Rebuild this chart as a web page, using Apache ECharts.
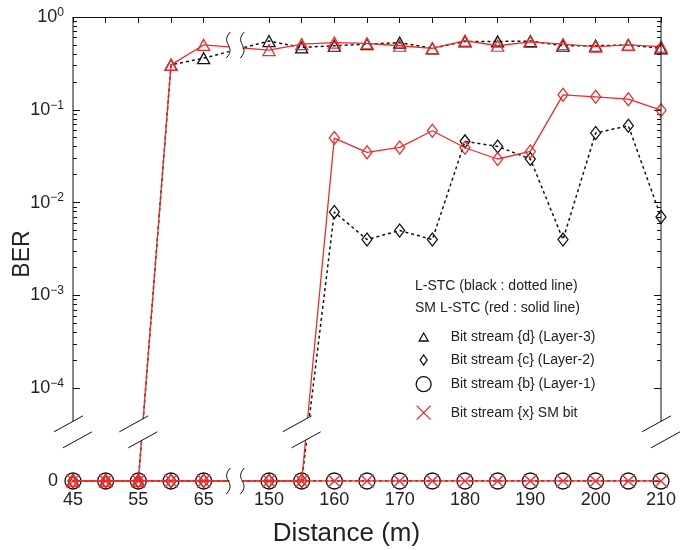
<!DOCTYPE html>
<html>
<head>
<meta charset="utf-8">
<script src="https://cdn.jsdelivr.net/npm/echarts@6/dist/echarts.min.js"></script>
<style>html,body{margin:0;padding:0;background:#fff;}#c{width:696px;height:550px;}</style>
</head>
<body>
<div id="c"></div>
<script>
// ---- data ----
const CATEGORIES = ['45','50','55','60','65','','150','155','160','165','170','175','180','185','190','195','200','205','210'];
const ZERO_LEVEL = 1e-5;           // BER = 0 is drawn on this level of the broken log axis
const D_LSTC = [0,0,0,0.305,0.36,null,0.55,0.47,0.49,0.51,0.53,0.46,0.545,0.545,0.55,0.49,0.49,0.50,0.46];
const D_SM   = [0,0,0,0.305,0.50,null,0.44,0.51,0.53,0.52,0.49,0.46,0.556,0.49,0.54,0.51,0.48,0.50,0.48];
const C_LSTC = [0,0,0,0,0,null,0,0,0.0079,0.004,0.005,0.004,0.0457,0.0403,0.0295,0.004,0.0562,0.0673,0.007];
const C_SM   = [0,0,0,0,0,null,0,0,0.0496,0.0348,0.0393,0.0594,0.039,0.0295,0.0356,0.145,0.138,0.130,0.099];
const B_LSTC = [0,0,0,0,0,null,0,0,0,0,0,0,0,0,0,0,0,0,0];
const X_SM   = [0,0,0,0,0,null,0,0,0,0,0,0,0,0,0,0,0,0,0];
const LEGEND_NAMES = ['Bit stream {d} (Layer-3)','Bit stream {c} (Layer-2)','Bit stream {b} (Layer-1)','Bit stream {x} SM bit'];
const HEADER_TEXTS = ['L-STC (black : dotted line)','SM L-STC (red : solid line)'];

const RED = '#ee2b2b';
const BLACK = '#111';
const FONT = 'Liberation Sans, Arial, sans-serif';

function toLog(arr){ return arr.map(v => v === null ? null : (v === 0 ? ZERO_LEVEL : v)); }

const minorVals = [];
for (let e = -4; e < 0; e++) for (let k = 2; k <= 9; k++) minorVals.push(k * Math.pow(10, e));

const chart = echarts.init(document.getElementById('c'), null, {renderer:'canvas'});

function yAxisBase(pos){
  return {
    type:'log', logBase:10, min:ZERO_LEVEL, max:1, position:pos,
    axisLine:{show:false}, splitLine:{show:false}, minorTick:{show:false}
  };
}

const lineSeries = (name, data, color, dotted, symbol, size, z) => ({
  name, type:'line', data: toLog(data), connectNulls:true,
  symbol, symbolSize:size, showSymbol:true, z,
  lineStyle:{color, width: dotted ? 1.5 : 1.3, type: dotted ? [3,3] : 'solid'},
  itemStyle:{color:'rgba(255,255,255,0)', borderColor:color, borderWidth:1.3},
  emphasis:{disabled:true}, animation:false
});

const XPATH = 'path://M0,0L10,10M10,0L0,10';

const legendItem = (name, icon, color, w, h, cy) => ({
  left: 418 - w/2, top: cy - 9, orient:'vertical',
  itemWidth:w, itemHeight:h, selectedMode:false,
  data:[{name, icon, itemStyle:{color:'rgba(255,255,255,0)', borderColor:color, borderWidth:1.3}}],
  textStyle:{fontFamily:FONT, fontSize:14, color:'#222', padding:[0,0,0, 451 - (418 - w/2) - w - 11]}
});

const option = {
  animation:false,
  backgroundColor:'#fff',
  grid:{left:73, right:35, top:17, bottom:69, containLabel:false, outerBoundsMode:'none'},
  xAxis:[
    {type:'category', data:CATEGORIES, boundaryGap:false, position:'bottom',
     axisLine:{show:false}, axisTick:{show:false}, splitLine:{show:false},
     axisLabel:{interval:(i)=> i%2===0 && CATEGORIES[i]!=='', fontFamily:FONT, fontSize:18, color:'#222', margin:10},
     name:'Distance (m)', nameLocation:'middle', nameGap:40, nameMoveOverlap:false,
     nameTextStyle:{fontFamily:FONT, fontSize:26, color:'#222', padding:[0,41,0,0]}},
    {type:'category', data:CATEGORIES, boundaryGap:false, position:'top',
     axisLine:{show:true, lineStyle:{color:BLACK, width:1}},
     axisTick:{show:true, inside:true, length:6, interval:(i,v)=> v!=='', lineStyle:{color:BLACK}},
     axisLabel:{show:false}, splitLine:{show:false}}
  ],
  yAxis:[
    Object.assign(yAxisBase('left'), {
      axisTick:{show:true, inside:true, length:7, lineStyle:{color:BLACK}},
      axisLabel:{fontFamily:FONT, color:'#222', margin:9,
        formatter:(v)=>{ if (v <= ZERO_LEVEL*1.0001) return '{z|0}';
          const e = Math.round(Math.log10(v));
          return '{b|10}{s|' + (e===0 ? '0' : '\u2212' + (-e)) + '}'; },
        rich:{b:{fontSize:18, fontFamily:FONT, color:'#222'},
              s:{fontSize:12, fontFamily:FONT, color:'#222', verticalAlign:'bottom', padding:[0,0,9,0]},
              z:{fontSize:18, fontFamily:FONT, color:'#222', padding:[0,6,0,0]}}},
      name:'BER', nameLocation:'middle', nameGap:39, nameMoveOverlap:false,
      nameTextStyle:{fontFamily:FONT, fontSize:23, color:'#222', padding:[0,10,0,0]}
    }),
    Object.assign(yAxisBase('right'), {
      axisTick:{show:true, inside:true, length:7, lineStyle:{color:BLACK}},
      axisLabel:{show:false}
    }),
    Object.assign(yAxisBase('left'), {
      axisTick:{show:true, inside:true, length:4, customValues:minorVals, lineStyle:{color:BLACK}},
      axisLabel:{show:false}
    }),
    Object.assign(yAxisBase('right'), {
      axisTick:{show:true, inside:true, length:4, customValues:minorVals, lineStyle:{color:BLACK}},
      axisLabel:{show:false}
    })
  ],
  legend:[
    legendItem(LEGEND_NAMES[0], 'triangle', BLACK, 9, 8, 334),
    legendItem(LEGEND_NAMES[1], 'diamond', BLACK, 7, 10, 357),
    legendItem(LEGEND_NAMES[2], 'circle', BLACK, 15, 15, 380),
    legendItem(LEGEND_NAMES[3], XPATH, RED, 14, 14, 409)
  ],
  series:[
    lineSeries(LEGEND_NAMES[2], B_LSTC, BLACK, true, 'circle', 16, 2),
    lineSeries(LEGEND_NAMES[1], C_LSTC, BLACK, true, 'diamond', [10,13], 3),
    lineSeries(LEGEND_NAMES[0], D_LSTC, BLACK, true, 'triangle', [12,11], 4),
    lineSeries(LEGEND_NAMES[3], X_SM, RED, false, XPATH, 13, 5),
    lineSeries('SM {c}', C_SM, RED, false, 'diamond', [10,13], 6),
    lineSeries('SM {d}', D_SM, RED, false, 'triangle', [12,11], 7)
  ]
};
chart.setOption(option);

// ---- axis breaks, frame lines and legend header (decoration) ----
const P = (i, v) => chart.convertToPixel({xAxisIndex:0, yAxisIndex:0}, [i, v]);
const yTop = P(0, 1)[1];
const yZero = P(0, ZERO_LEVEL)[1];
const yBreak = P(0, Math.pow(10, -4.47))[1];
const xLeft = P(0, 1)[0];
const xRight = P(CATEGORIES.length - 1, 1)[0];
const VBREAK_AT = ['45','55','155','210'];
const HBREAK_AT = CATEGORIES.indexOf('');

const g = [];
const ls = {stroke:BLACK, lineWidth:1};
[xLeft, xRight].forEach(x => g.push({type:'line', z:100, shape:{x1:x, y1:yTop, x2:x, y2:yBreak - 10.5}, style:ls}));
VBREAK_AT.forEach(c => {
  const x = P(CATEGORIES.indexOf(c), 1)[0];
  g.push({type:'polygon', z:99, shape:{points:[[x-19,yBreak],[x+10,yBreak-16],[x+19,yBreak],[x-10,yBreak+16]]}, style:{fill:'#fff'}});
  g.push({type:'line', z:101, shape:{x1:x-19, y1:yBreak, x2:x+10, y2:yBreak-16}, style:ls});
  g.push({type:'line', z:101, shape:{x1:x-10, y1:yBreak+16, x2:x+19, y2:yBreak}, style:ls});
});
const xb = P(HBREAK_AT, 1)[0];
[P(HBREAK_AT, 0.5)[1], yZero].forEach(yc => {
  g.push({type:'rect', z:99, shape:{x:xb-7, y:yc-13, width:13, height:26}, style:{fill:'#fff'}});
  [xb-8, xb+6].forEach(x => g.push({type:'bezierCurve', z:101,
    shape:{x1:x+2, y1:yc-13, cpx1:x-9, cpy1:yc-1, cpx2:x+9, cpy2:yc+1, x2:x-2, y2:yc+13},
    style:{stroke:BLACK, lineWidth:1, fill:null}}));
});
HEADER_TEXTS.forEach((t, k) => g.push({type:'text', z:101, left:415, top:[279, 301][k],
  style:{text:t, fontFamily:FONT, fontSize:14, fill:'#222'}}));
chart.setOption({graphic:g});
</script>
</body>
</html>
